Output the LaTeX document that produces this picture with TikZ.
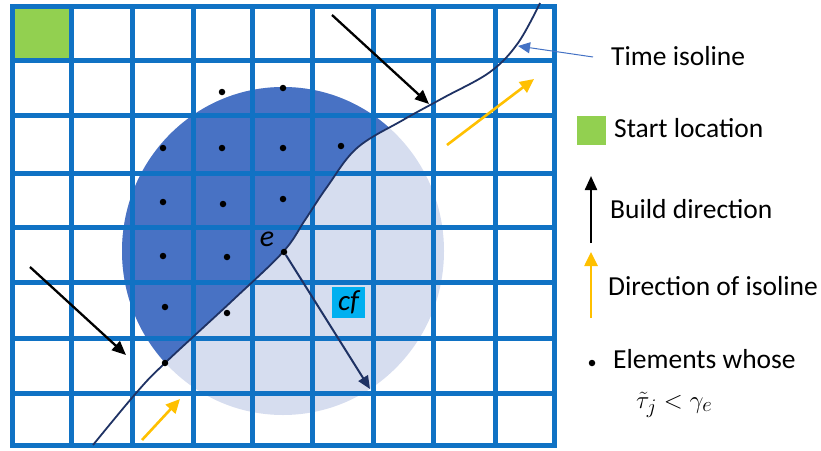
\documentclass[tikz,border=0pt]{standalone}
\usepackage{fontspec}
\setmainfont{Carlito}
\usetikzlibrary{arrows.meta}
\definecolor{gridblue}{RGB}{16,114,196}
\definecolor{darkfill}{RGB}{72,114,196}
\definecolor{lightfill}{RGB}{214,221,239}
\definecolor{isonavy}{RGB}{31,50,100}
\definecolor{startgreen}{RGB}{146,208,80}
\definecolor{isoyellow}{RGB}{255,192,0}
\definecolor{cfcyan}{RGB}{0,176,240}
\definecolor{pointerblue}{RGB}{68,114,196}
\begin{document}
\begin{tikzpicture}[x=1pt,y=-1pt,
  gridline/.style={draw=gridblue,line width=5pt,line cap=rect},
  legendtext/.style={anchor=base west,inner sep=0pt,font=\fontsize{27.5}{30}\selectfont},
  dotmark/.style={circle,fill=black,inner sep=0pt,minimum size=6.5pt},
  blackarrow/.style={draw=black,line width=2.3pt,-{Triangle[length=14pt,width=12pt]}},
  yellowarrow/.style={draw=isoyellow,line width=2.6pt,-{Triangle[length=14pt,width=13pt]}},
  cfarrow/.style={draw=isonavy,line width=2pt,-{Triangle[length=13pt,width=11pt]}},
  pointer/.style={draw=pointerblue,line width=1pt,-{Triangle[length=12pt,width=11pt]}},
  isoline/.style={draw=isonavy,line width=1.8pt}]
\useasboundingbox (0,0) rectangle (821,450);
% circle of influence
\fill[lightfill] (283,251) ellipse [x radius=161pt,y radius=164pt];
\begin{scope}
  \clip (283,251) ellipse [x radius=161pt,y radius=164pt];
  \fill[darkfill] plot[smooth,tension=0.6] coordinates {(93,445) (137,392) (165,363) (233,300) (283,252) (305,220) (327,187) (357,148) (403,120) (443,98) (490,72) (518,43) (540,3)}
    -- (560,-20) -- (-20,-20) -- (-20,470) -- (93,470) -- cycle;
\end{scope}
% start cell
\fill[startgreen] (12,6) rectangle (71,60);
% grid
\foreach \x in {12,71,132,193,252,312,373,433,495,554}
  \draw[gridline] (\x,6) -- (\x,445);
\foreach \y in {6,60,115,173,227,282,338,393,445}
  \draw[gridline] (12,\y) -- (554,\y);
% time isoline
\draw[isoline] plot[smooth,tension=0.6] coordinates {(93,445) (137,392) (165,363) (233,300) (283,252) (305,220) (327,187) (357,148) (403,120) (443,98) (490,72) (518,43) (540,3)};
% elements
\node[dotmark] (d1) at (222,92) {};
\node[dotmark] (d2) at (283,88) {};
\node[dotmark] (d3) at (163,148) {};
\node[dotmark] (d4) at (222,148) {};
\node[dotmark] (d5) at (283,148) {};
\node[dotmark] (d6) at (341,146) {};
\node[dotmark] (d7) at (163,202) {};
\node[dotmark] (d8) at (223,204) {};
\node[dotmark] (d9) at (283,199) {};
\node[dotmark] (d10) at (163,256) {};
\node[dotmark] (d11) at (227,257) {};
\node[dotmark] (d12) at (165,307) {};
\node[dotmark] (d13) at (227,313) {};
\node[dotmark] (d14) at (165,363) {};
\node[dotmark] (e) at (284,252) {};
\node[inner sep=0pt,font=\fontsize{30}{32}\selectfont\itshape] (elabel) at (267,239) {e};
% cf
\coordinate (cfend) at (370,389);
\draw[cfarrow] (e) -- (cfend);
\node[fill=cfcyan,minimum width=33pt,minimum height=31pt,inner sep=0pt,font=\fontsize{29}{30}\selectfont\itshape] (cf) at (348.5,302.5) {cf};
% build direction arrows
\coordinate (ba1s) at (332,15); \coordinate (ba1e) at (429,104);
\draw[blackarrow] (ba1s) -- (ba1e);
\coordinate (ba2s) at (30,267); \coordinate (ba2e) at (126,355);
\draw[blackarrow] (ba2s) -- (ba2e);
% isoline direction arrows
\coordinate (ya1s) at (447,145); \coordinate (ya1e) at (534,79);
\draw[yellowarrow] (ya1s) -- (ya1e);
\coordinate (ya2s) at (142,440); \coordinate (ya2e) at (180,399);
\draw[yellowarrow] (ya2s) -- (ya2e);
% legend
\node[legendtext] (tiso) at (611,65) {Time isoline};
\coordinate (tps) at (593,57); \coordinate (tpe) at (518,46);
\draw[pointer] (tps) -- (tpe);
\node[fill=startgreen,minimum size=29pt,inner sep=0pt] (startleg) at (591.5,130.5) {};
\node[legendtext] (tstart) at (614,137) {Start location};
\coordinate (lbs) at (591,243); \coordinate (lbe) at (591,176);
\draw[blackarrow] (lbs) -- (lbe);
\node[legendtext] (tbuild) at (610,218) {Build direction};
\coordinate (lys) at (591,318); \coordinate (lye) at (591,252);
\draw[yellowarrow] (lys) -- (lye);
\node[legendtext] (tdir) at (608,295) {Direction of isoline};
\node[dotmark] (bullet) at (592,363) {};
\node[legendtext] (telem) at (613,368) {Elements whose};
\node[anchor=base west,inner sep=0pt,font=\fontsize{29}{32}\selectfont] (tmath) at (636,408) {$\tilde{\tau}_j < \gamma_e$};
\end{tikzpicture}
\end{document}
